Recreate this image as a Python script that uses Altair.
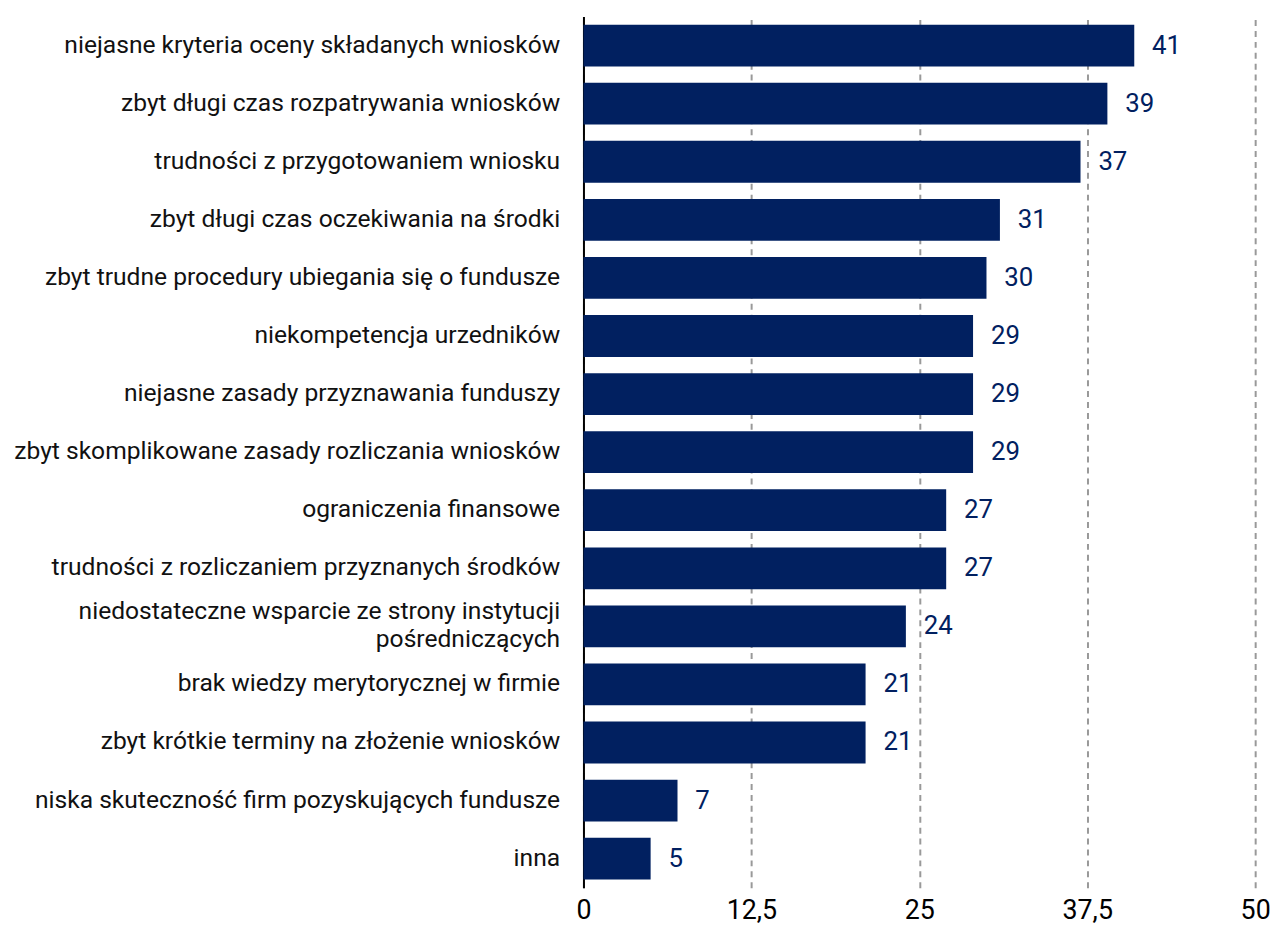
import altair as alt
import pandas as pd

categories = [
    "niejasne kryteria oceny składanych wniosków",
    "zbyt długi czas rozpatrywania wniosków",
    "trudności z przygotowaniem wniosku",
    "zbyt długi czas oczekiwania na środki",
    "zbyt trudne procedury ubiegania się o fundusze",
    "niekompetencja urzedników",
    "niejasne zasady przyznawania funduszy",
    "zbyt skomplikowane zasady rozliczania wniosków",
    "ograniczenia finansowe",
    "trudności z rozliczaniem przyznanych środków",
    "niedostateczne wsparcie ze strony instytucji|pośredniczących",
    "brak wiedzy merytorycznej w firmie",
    "zbyt krótkie terminy na złożenie wniosków",
    "niska skuteczność firm pozyskujących fundusze",
    "inna",
]
values = [41, 39, 37, 31, 30, 29, 29, 29, 27, 27, 24, 21, 21, 7, 5]
x_ticks = [0, 12.5, 25, 37.5, 50]

df = pd.DataFrame({"cat": categories, "val": values})
FONT = "Roboto"
NAVY = "#012060"

y = alt.Y("cat:N", sort=categories, title=None,
          scale=alt.Scale(paddingInner=0.28, paddingOuter=0.14),
          axis=alt.Axis(labelExpr="split(datum.label, '|')", labelFontSize=24.8,
                        labelFont=FONT, labelColor="#111111", labelPadding=24,
                        labelOffset={"condition": {"test": "indexof(datum.value, '|') >= 0",
                                                   "value": -14}, "value": 0},
                        ticks=False, domainColor="#000000", domainWidth=2,
                        labelLimit=700, labelLineHeight=28))
x = alt.X("val:Q", title=None,
          scale=alt.Scale(domain=[0, 50], nice=False),
          axis=alt.Axis(values=x_ticks,
                        labelExpr="replace(toString(datum.value), '.', ',')",
                        labelFontSize=27, labelFont=FONT, labelColor="#000000",
                        labelPadding=10, labelFlush=False, ticks=False, domain=False,
                        grid=True, gridDash=[6, 5], gridColor="#999999", gridWidth=2))

bars = alt.Chart(df).mark_bar(color=NAVY).encode(x=x, y=y)
text = alt.Chart(df).mark_text(align="left", dx=18, fontSize=26, font=FONT,
                               color=NAVY).encode(x="val:Q", y=alt.Y("cat:N", sort=categories),
                                                  text="val:Q")

chart = (bars + text).properties(width=677, height=878).configure_view(stroke=None)
chart.save("out.html", embed_options={"renderer": "svg", "actions": False})
